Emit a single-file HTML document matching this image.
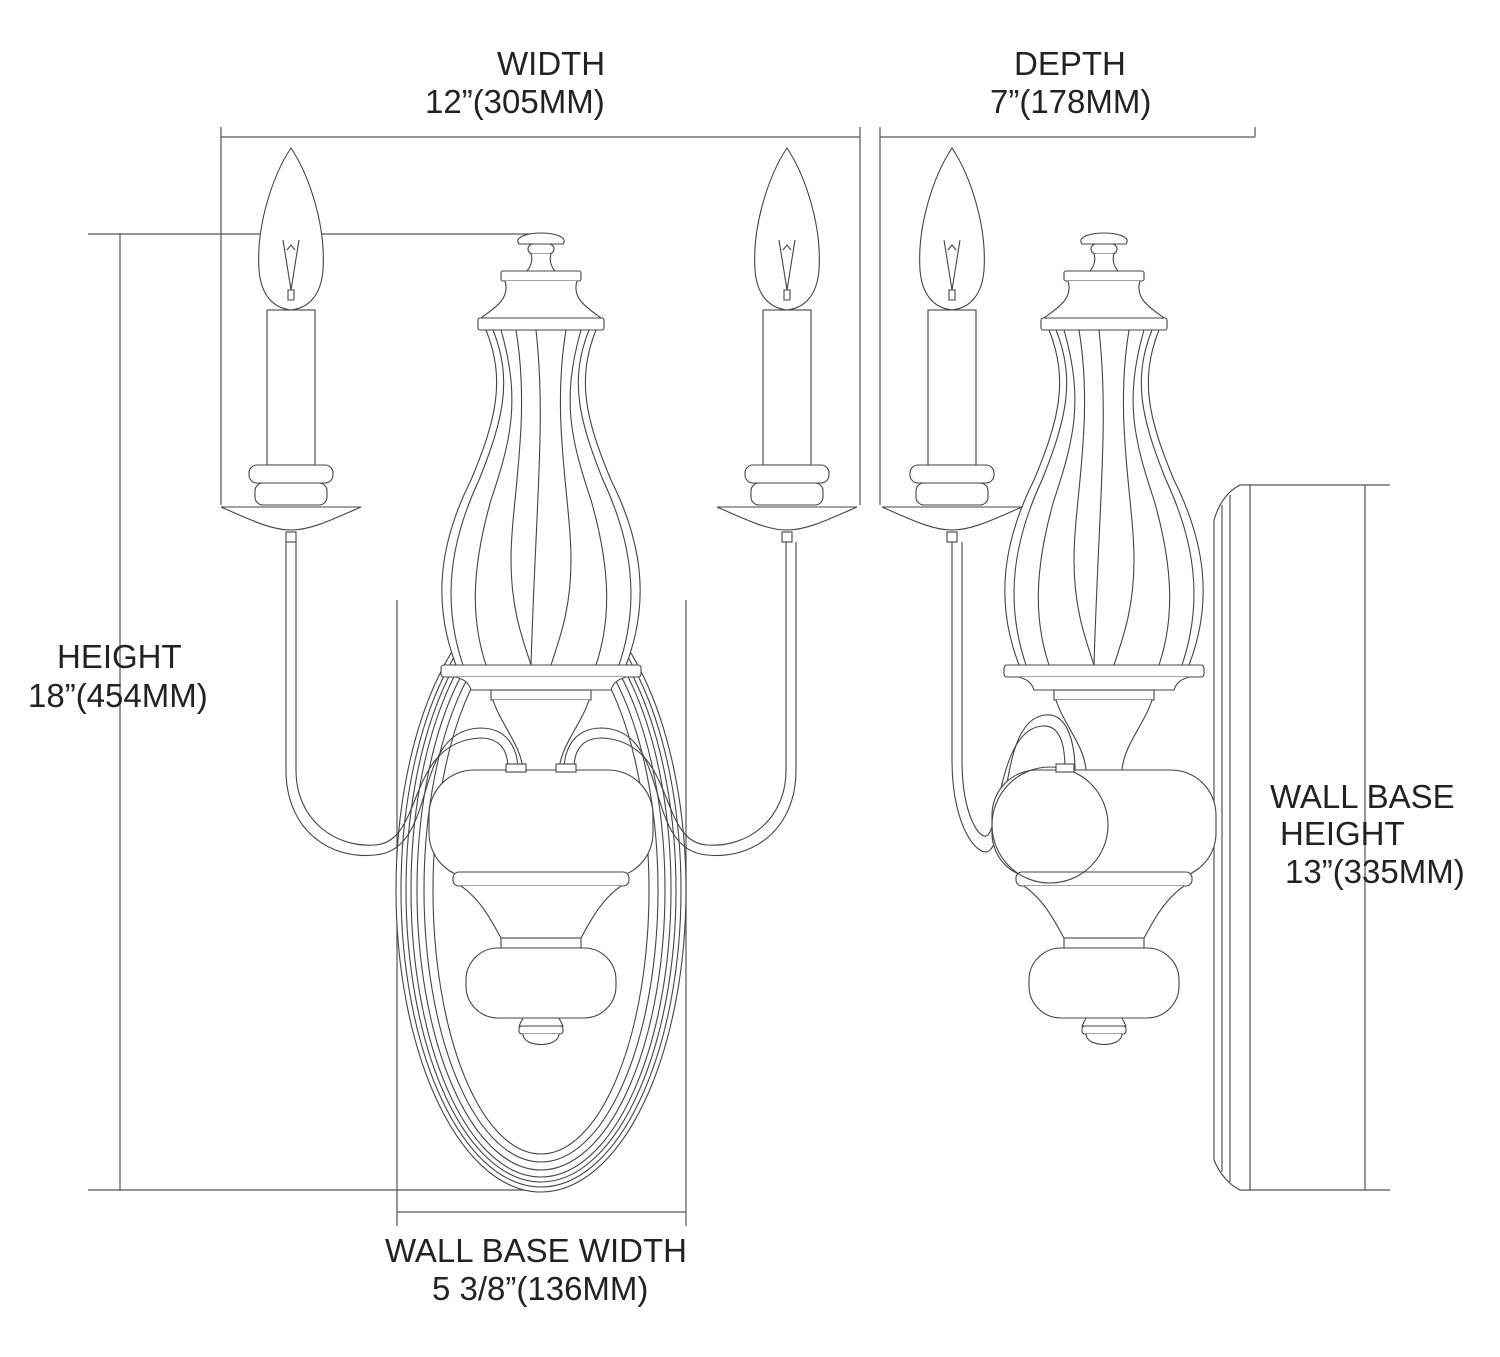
<!DOCTYPE html>
<html><head><meta charset="utf-8"><style>
html,body{margin:0;padding:0;background:#fff;}
svg{display:block}
text{font-family:"Liberation Sans",Arial,sans-serif;font-size:33px;fill:#222;}
</style></head><body>
<svg width="1500" height="1357" viewBox="0 0 1500 1357" xmlns="http://www.w3.org/2000/svg">
<g fill="none" stroke="#555" stroke-width="1.2">
<path d="M221 127V505M860 127V505M221 137H860"/>
<path d="M880 127V505M1255 127V137M880 137H1255"/>
<path d="M88 234H530M88 1190H541M1240 1190H1390M120 234V1190"/>
<path d="M397 600V1226M686 600V1226M397 1212H686"/>
<path d="M1240 485H1390M1365 485V1190"/>
</g>
<defs>
<g id="candle">
 <path d="M0 148 C-18 175,-35 225,-32 270 C-30 295,-18 308,0 310 C18 308,30 295,32 270 C35 225,18 175,0 148Z"/>
 <path d="M-8 240 L0 290 L8 240 M-4 250 L0 245 L4 250 M-3 290h6v10h-6z"/>
 <rect x="-24" y="310" width="48" height="155"/>
 <rect x="-42" y="465" width="84" height="18" rx="8"/>
 <rect x="-36" y="483" width="72" height="22" rx="8"/>
 <path d="M-70 507 C-40 520,-20 530,0 530 C20 530,40 520,70 507Z"/>
 <rect x="-5" y="532" width="10" height="10"/>
</g>
<g id="vase">
 <path d="M-22 244 C-28 236,-10 233,0 233 C10 233,28 236,22 244 Z"/>
 <rect x="-13" y="244" width="26" height="10" rx="5"/>
 <path d="M-10 254 C-8 260,-10 266,-14 271 H14 C10 266,8 260,10 254"/>
 <rect x="-40" y="271" width="80" height="10" rx="2"/>
 <path d="M-36 281 C-30 300,-50 310,-60 318 H60 C50 310,30 300,36 281"/>
 <rect x="-63" y="318" width="126" height="12" rx="2"/>
 <path d="M-55 330 C-35 380,-45 420,-70 480 C-100 540,-110 600,-85 665 H85 C110 600,100 540,70 480 C45 420,35 380,55 330Z"/>
 <path fill="none" d="M-48 330 C-28 380,-38 420,-62 480 C-90 540,-100 600,-78 665 M48 330 C28 380,38 420,62 480 C90 540,100 600,78 665 M-40 330 C-20 400,-30 440,-50 500 C-70 570,-70 620,-55 665 M40 330 C20 400,30 440,50 500 C70 570,70 620,55 665 M-25 330 C-10 420,-30 500,-30 560 C-30 610,-18 640,-10 665 M-5 330 C5 420,-5 500,-10 665 M25 330 C10 420,30 500,30 560 C30 610,18 640,10 665"/>
 <rect x="-100" y="665" width="200" height="12" rx="3"/>
 <path d="M-85 677 C-75 680,-72 684,-70 690 H70 C72 684,75 680,85 677"/>
 <rect x="-50" y="690" width="100" height="10"/>
 <path d="M-48 700 C-40 725,-20 745,-18 770 H18 C20 745,40 725,48 700"/>
 <rect x="-112" y="770" width="224" height="108" rx="45"/>
 <rect x="-88" y="872" width="176" height="14" rx="6"/>
 <path d="M-80 886 C-60 900,-50 920,-40 938 H40 C50 920,60 900,80 886"/>
 <rect x="-40" y="938" width="80" height="10"/>
 <rect x="-75" y="948" width="150" height="70" rx="32"/>
 <path d="M-18 1018 h36 l4 8 h-44z"/>
 <rect x="-22" y="1026" width="44" height="8" rx="3"/>
 <path d="M-18 1034 C-18 1048,18 1048,18 1034"/>
</g>
</defs>
<g fill="#fff" stroke="#444" stroke-width="1.1">
<ellipse cx="541" cy="890" rx="145" ry="302"/>
<ellipse cx="541" cy="890" rx="140" ry="297" fill="none"/>
<ellipse cx="541" cy="890" rx="135" ry="292" fill="none"/>
<ellipse cx="541" cy="890" rx="130" ry="287" fill="none"/>
<ellipse cx="541" cy="890" rx="124" ry="280" fill="none"/>
<ellipse cx="541" cy="890" rx="117" ry="272" fill="none"/>
<ellipse cx="541" cy="890" rx="108" ry="264" fill="none"/>
<path fill="none" d="M286 542 V770 C286 830,330 860,375 855 C440 850,410 730,480 728 C515 728,518 760,518 770"/>
<path fill="none" d="M296 542 V770 C296 820,335 848,375 845 C425 842,405 742,480 738 C507 738,508 760,508 770"/>
<path fill="none" d="M796 542 V770 C796 830,752 860,707 855 C642 850,672 730,602 728 C567 728,564 760,564 770"/>
<path fill="none" d="M786 542 V770 C786 820,747 848,707 845 C657 842,677 742,602 738 C575 738,574 760,574 770"/>
<use href="#candle" x="291" y="0"/>
<use href="#candle" x="787" y="0"/>
<use href="#vase" x="541" y="0"/>
<rect x="506" y="764" width="20" height="8"/>
<rect x="556" y="764" width="20" height="8"/>
<path d="M1240 485 H1250 V1190 H1240 C1230 1185,1220 1175,1214 1160 V520 C1220 500,1230 490,1240 485Z"/>
<path fill="none" d="M1222 505 V1172 M1230 495 V1182"/>
<path fill="none" d="M952 542 V760 C952 830,980 860,990 850 C1010 830,1000 720,1045 715 C1070 712,1075 750,1075 770"/>
<path fill="none" d="M962 542 V760 C962 815,980 842,988 835 C1000 822,1000 730,1042 726 C1064 724,1065 755,1065 770"/>
<use href="#candle" x="952" y="0"/>
<use href="#vase" x="1104" y="0"/>
<circle cx="1050" cy="825" r="58" fill="none"/>
<rect x="1056" y="764" width="18" height="8"/>
</g>
<text x="497" y="75">WIDTH</text>
<text x="425" y="113">12”(305MM)</text>
<text x="1014" y="75">DEPTH</text>
<text x="990" y="113">7”(178MM)</text>
<text x="57" y="668">HEIGHT</text>
<text x="28" y="707">18”(454MM)</text>
<text x="1270" y="808">WALL BASE</text>
<text x="1280" y="845">HEIGHT</text>
<text x="1285" y="883">13”(335MM)</text>
<text x="385" y="1262">WALL BASE WIDTH</text>
<text x="432" y="1300">5 3/8”(136MM)</text>
</svg>
</body></html>
